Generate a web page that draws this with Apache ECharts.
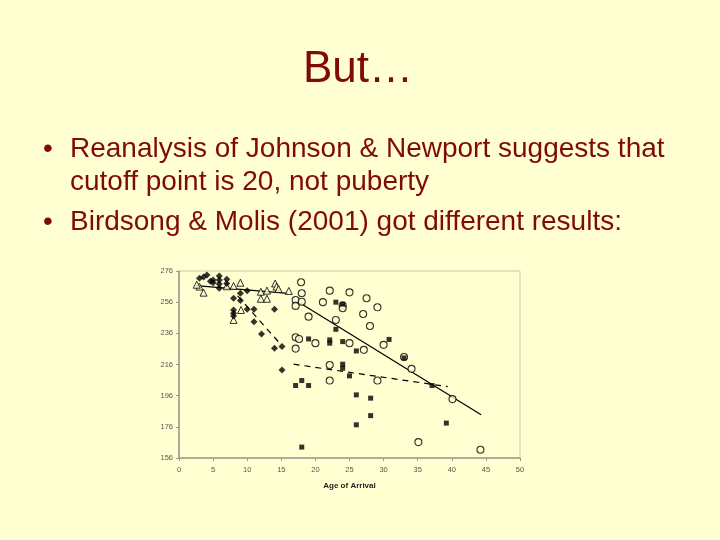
<!DOCTYPE html>
<html>
<head>
<meta charset="utf-8">
<script src="https://cdn.jsdelivr.net/npm/echarts@6/dist/echarts.min.js"></script>
<style>
html,body{margin:0;padding:0;background:#FFFFD2;}
#c{width:720px;height:540px;}
</style>
</head>
<body>
<div id="c"></div>
<script>
// ---- data ----
const xTicks = [0,5,10,15,20,25,30,35,40,45,50];
const yTicks = [156,176,196,216,236,256,276];

// early arrivals (filled diamonds)
const earlyFilled = [
  [3.0,271.3],[4.1,273.4],[3.6,272.2],[5.0,270.2],[5.0,268.5],[4.6,269.5],
  [5.9,272.8],[5.9,270.2],[5.9,267.7],[5.9,265.0],[7.0,270.7],[7.0,268.0],
  [8.0,258.5],[9.0,261.7],[9.0,257.0],[10.0,263.4],[8.0,251.0],[8.0,248.9],
  [8.0,247.2],[10.0,251.4],[11.0,251.4],[14.0,251.4],[11.0,243.5],[12.1,235.6],
  [14.0,226.4],[15.1,227.5],[15.1,212.5]
];
// early arrivals (open triangles)
const earlyOpen = [
  [3.0,266.0],[3.6,262.1],[7.0,266.2],[8.0,266.4],[9.0,268.5],[12.0,262.7],
  [12.9,263.4],[12.0,258.2],[12.9,258.2],[14.1,268.0],[14.3,266.0],[14.6,264.5],
  [16.1,263.2],[9.1,251.0],[8.0,244.6],[2.6,267.2]
];
// late arrivals (open circles)
const lateOpen = [
  [17.9,268.8],[18.0,261.7],[17.1,257.4],[17.1,253.6],[18.0,256.3],[22.1,263.4],
  [25.0,262.3],[21.1,256.0],[27.5,258.5],[29.1,252.7],[27.0,248.4],[19.0,246.7],
  [23.0,244.6],[28.0,240.7],[24.0,253.8],[24.0,252.1],[17.1,233.5],[17.6,232.4],
  [20.0,229.7],[25.0,229.7],[17.1,226.2],[27.1,225.4],[30.0,228.6],[33.0,220.8],
  [34.1,213.2],[22.1,215.7],[22.1,205.7],[29.1,205.7],[40.1,193.8],[35.1,166.2],
  [44.2,161.3]
];
// late arrivals (filled squares)
const lateFilled = [
  [23.0,256.0],[24.0,254.7],[23.0,238.6],[19.0,232.4],[22.1,231.8],[22.1,229.7],
  [24.0,230.7],[26.0,224.7],[30.8,232.1],[33.0,220.2],[24.0,216.2],[24.0,213.6],
  [25.0,208.7],[17.1,202.5],[18.0,205.7],[19.0,202.5],[26.0,196.5],[28.1,194.4],
  [28.1,183.2],[26.0,177.3],[18.0,163.0],[37.1,202.5],[39.2,178.4]
];
// fitted lines (end points)
const earlySolidLine = [[2.5,266.6],[16.0,261.7]];
const earlyDashedLine = [[8.6,260.0],[14.6,230.5]];
const lateSolidLine = [[17.8,255.3],[44.3,183.7]];
const lateDashedLine = [[16.8,216.2],[39.4,201.8]];

const titleText = 'But…';
const bullets = [
  'Reanalysis of Johnson & Newport suggests that',
  'cutoff point is 20, not puberty',
  'Birdsong & Molis (2001) got different results:'
];

const BG = '#FFFFD2';
const RED = '#800A0A';
const FONT = '"Liberation Sans", Arial, sans-serif';

const chart = echarts.init(document.getElementById('c'), null, {renderer:'canvas'});

function lineSeries(data, dashed){
  return {
    type:'line', data:data, symbol:'none', silent:true, z:1,
    lineStyle:{color:'#000', width:1.2, type: dashed ? [6,5] : 'solid'}
  };
}
function txt(str, x, y, size, align){
  return {type:'text', x:x, y:y,
    style:{text:str, fill:RED, font:size+'px '+FONT, align:align, verticalAlign:'top'}};
}

chart.setOption({
  backgroundColor: BG,
  animation:false,
  graphic:[
    txt(titleText, 358, 48, 44, 'center'),
    txt('•', 43, 135, 28, 'left'),
    txt(bullets[0], 70, 135, 28, 'left'),
    txt(bullets[1], 70, 168, 28, 'left'),
    txt('•', 43, 208, 28, 'left'),
    txt(bullets[2], 70, 208, 28, 'left')
  ],
  grid:{left:179, right:200, top:271, bottom:82, show:true, borderColor:'#C9C9B4', borderWidth:1, backgroundColor:'transparent'},
  xAxis:{
    type:'value', min:0, max:50, interval:5,
    name:'Age of Arrival', nameLocation:'middle', nameGap:24,
    nameTextStyle:{fontSize:8, fontWeight:'bold', color:'#222', fontFamily:FONT},
    axisLine:{show:true, lineStyle:{color:'#9A9A90', width:1.5}},
    axisTick:{show:true, length:3, lineStyle:{color:'#9A9A90'}},
    axisLabel:{fontSize:7.5, color:'#555', fontFamily:FONT, margin:8},
    splitLine:{show:false}
  },
  yAxis:{
    type:'value', min:156, max:276,
    axisLine:{show:true, lineStyle:{color:'#9A9A90', width:1.5}},
    axisTick:{show:true, length:3, customValues:yTicks, lineStyle:{color:'#9A9A90'}},
    axisLabel:{fontSize:7.5, color:'#555', fontFamily:FONT, margin:6, customValues:yTicks},
    splitLine:{show:false}
  },
  series:[
    lineSeries(earlySolidLine,false),
    lineSeries(earlyDashedLine,true),
    lineSeries(lateSolidLine,false),
    lineSeries(lateDashedLine,true),
    {type:'scatter', data:earlyOpen, symbol:'triangle', symbolSize:7, z:2,
      itemStyle:{color:BG, borderColor:'#000', borderWidth:1}},
    {type:'scatter', data:earlyFilled, symbol:'diamond', symbolSize:7, z:3,
      itemStyle:{color:'#000'}},
    {type:'scatter', data:lateOpen, symbol:'circle', symbolSize:7, z:2,
      itemStyle:{color:BG, borderColor:'#000', borderWidth:1.1}},
    {type:'scatter', data:lateFilled, symbol:'rect', symbolSize:5, z:3,
      itemStyle:{color:'#000'}}
  ]
});
</script>
</body>
</html>
